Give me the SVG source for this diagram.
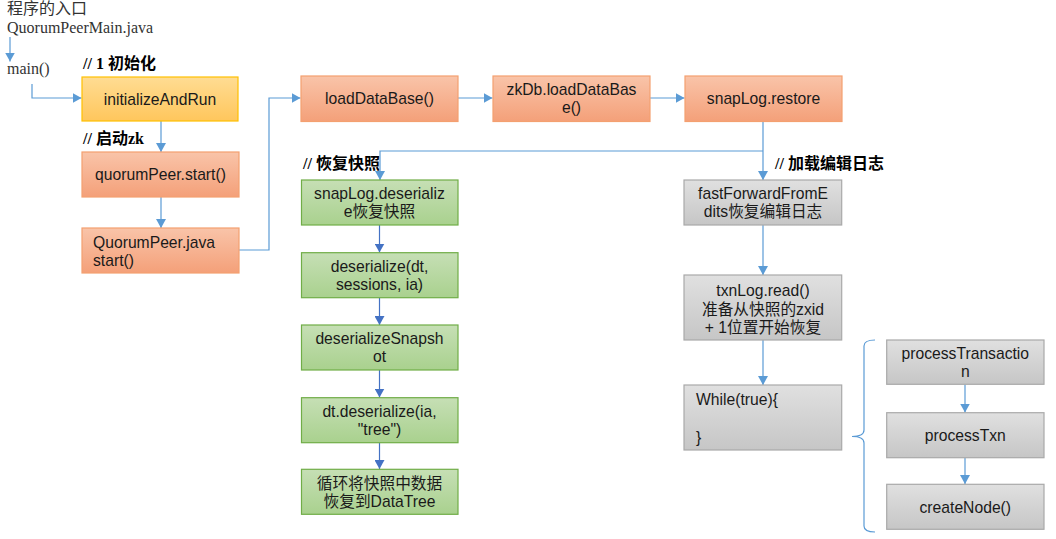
<svg xmlns="http://www.w3.org/2000/svg" width="1056" height="539" viewBox="0 0 1056 539">
<defs>
<linearGradient id="gOrange" x1="0" y1="0" x2="0" y2="1"><stop offset="0" stop-color="#F9C4A9"/><stop offset="1" stop-color="#F4A079"/></linearGradient>
<linearGradient id="gYellow" x1="0" y1="0" x2="0" y2="1"><stop offset="0" stop-color="#FFDC93"/><stop offset="1" stop-color="#FFC65C"/></linearGradient>
<linearGradient id="gGreen" x1="0" y1="0" x2="0" y2="1"><stop offset="0" stop-color="#C6DFB5"/><stop offset="1" stop-color="#A9D18E"/></linearGradient>
<linearGradient id="gGray" x1="0" y1="0" x2="0" y2="1"><stop offset="0" stop-color="#E0E0E0"/><stop offset="1" stop-color="#C6C6C6"/></linearGradient>
<marker id="arr" viewBox="0 0 10 10" refX="10" refY="5" markerWidth="9" markerHeight="10" markerUnits="userSpaceOnUse" orient="auto" preserveAspectRatio="none"><path d="M0,0 L10,5 L0,10 z" fill="#5B9BD5"/></marker>
<marker id="arrD" viewBox="0 0 10 10" refX="10" refY="5" markerWidth="9" markerHeight="10" markerUnits="userSpaceOnUse" orient="auto" preserveAspectRatio="none"><path d="M0,0 L10,5 L0,10 z" fill="#4472C4"/></marker>
<style>
.orange{fill:url(#gOrange);stroke:#F4A070;stroke-width:1.2}
.yellow{fill:url(#gYellow);stroke:#FFC000;stroke-width:1.2}
.green{fill:url(#gGreen);stroke:#70AD47;stroke-width:1.2}
.gray{fill:url(#gGray);stroke:#A9A9A9;stroke-width:1.2}
.t{font-family:"Liberation Sans","Noto Sans CJK SC",Arial,sans-serif;font-size:15.7px;fill:#1a1a1a;text-anchor:middle}
.tl{font-family:"Liberation Sans","Noto Sans CJK SC",Arial,sans-serif;font-size:15.7px;fill:#1a1a1a}
.h{font-family:"Liberation Serif","Noto Sans CJK SC",serif;font-size:16px;font-weight:bold;fill:#000}
.s{font-family:"Liberation Serif","Noto Sans CJK SC",serif;font-size:16px;fill:#333}
.c{fill:none;stroke:#5B9BD5;stroke-width:1.2}
.cd{fill:none;stroke:#4472C4;stroke-width:1.2}
</style>
</defs>
<rect width="1056" height="539" fill="#fff"/>

<g id="labels">
<text class="s" x="7" y="14">程序的入口</text>
<text class="s" x="7" y="33">QuorumPeerMain.java</text>
<text class="s" x="7" y="74">main()</text>
<text class="h" x="83" y="69">// 1 初始化</text>
<text class="h" x="83" y="144">// 启动zk</text>
<text class="h" x="303" y="169">// 恢复快照</text>
<text class="h" x="775" y="169">// 加载编辑日志</text>
</g>

<g id="connectors">
<path class="c" d="M10,37 V61.5" marker-end="url(#arr)"/>
<path class="c" d="M32,84 V98 H81.5" marker-end="url(#arr)"/>
<path class="c" d="M161,121 V152" marker-end="url(#arr)"/>
<path class="c" d="M161,197 V228" marker-end="url(#arr)"/>
<path class="c" d="M239,250 H269 V98 H300.5" marker-end="url(#arr)"/>
<path class="c" d="M458,98 H492.5" marker-end="url(#arr)"/>
<path class="c" d="M650,98 H684.5" marker-end="url(#arr)"/>
<path class="c" d="M763,122 V180" marker-end="url(#arr)"/>
<path class="c" d="M763,151 H380 V180" marker-end="url(#arr)"/>
<path class="cd" d="M379.5,225 V252.5" marker-end="url(#arrD)"/>
<path class="cd" d="M379.5,298 V325" marker-end="url(#arrD)"/>
<path class="cd" d="M379.5,370 V397.5" marker-end="url(#arrD)"/>
<path class="cd" d="M379.5,443 V469" marker-end="url(#arrD)"/>
<path class="c" d="M763,225 V275" marker-end="url(#arr)"/>
<path class="c" d="M763,340 V385" marker-end="url(#arr)"/>
<path class="c" d="M965,384.5 V412.5" marker-end="url(#arr)"/>
<path class="c" d="M965,458 V484" marker-end="url(#arr)"/>
<path class="c" d="M875,340 Q864,340 864,346 V430 Q864,436.5 852,436.5 Q864,436.5 864,443 V526 Q864,532 875,532"/>
</g>

<g id="initializeAndRun"><rect class="yellow" x="82" y="77" width="156" height="44"/><text class="t" x="160" y="104.5">initializeAndRun</text></g>
<g id="quorumPeerStart"><rect class="orange" x="82" y="152" width="157" height="45"/><text class="t" x="160.5" y="180">quorumPeer.start()</text></g>
<g id="quorumPeerJava"><rect class="orange" x="82" y="228" width="157" height="45"/><text class="tl" x="93" y="247.5">QuorumPeer.java</text><text class="tl" x="93" y="265.5">start()</text></g>
<g id="loadDataBase"><rect class="orange" x="301" y="76" width="157" height="45.5"/><text class="t" x="379.5" y="104">loadDataBase()</text></g>
<g id="zkDbLoadDataBase"><rect class="orange" x="493" y="76" width="157" height="45.5"/><text class="t" x="571.5" y="95">zkDb.loadDataBas</text><text class="t" x="571.5" y="113">e()</text></g>
<g id="snapLogRestore"><rect class="orange" x="685" y="76" width="157" height="45.5"/><text class="t" x="763.5" y="104">snapLog.restore</text></g>

<g id="snapLogDeserialize"><rect class="green" x="301.5" y="180" width="156.5" height="45"/><text class="t" x="379.5" y="199">snapLog.deserializ</text><text class="t" x="379.5" y="217">e恢复快照</text></g>
<g id="deserializeDt"><rect class="green" x="301.5" y="252.7" width="156.5" height="45"/><text class="t" x="379.5" y="271.5">deserialize(dt,</text><text class="t" x="379.5" y="289.5">sessions, ia)</text></g>
<g id="deserializeSnapshot"><rect class="green" x="301.5" y="325" width="156.5" height="45"/><text class="t" x="379.5" y="344">deserializeSnapsh</text><text class="t" x="379.5" y="362">ot</text></g>
<g id="dtDeserialize"><rect class="green" x="301.5" y="397.7" width="156.5" height="45"/><text class="t" x="379.5" y="416.5">dt.deserialize(ia,</text><text class="t" x="379.5" y="434.5">"tree")</text></g>
<g id="restoreDataTree"><rect class="green" x="301.5" y="469.3" width="156.5" height="45"/><text class="t" x="379.5" y="488.5">循环将快照中数据</text><text class="t" x="379.5" y="506.5">恢复到DataTree</text></g>

<g id="fastForwardFromEdits"><rect class="gray" x="684" y="180" width="157.7" height="45"/><text class="t" x="763" y="199">fastForwardFromE</text><text class="t" x="763" y="217">dits恢复编辑日志</text></g>
<g id="txnLogRead"><rect class="gray" x="684" y="275" width="157.7" height="65"/><text class="t" x="763" y="296">txnLog.read()</text><text class="t" x="763" y="314.5">准备从快照的zxid</text><text class="t" x="763" y="333">+ 1位置开始恢复</text></g>
<g id="whileTrue"><rect class="gray" x="684" y="385" width="157.7" height="65"/><text class="tl" x="696" y="405">While(true){</text><text class="tl" x="696" y="443">}</text></g>

<g id="processTransaction"><rect class="gray" x="886.7" y="340" width="157.3" height="44.3"/><text class="t" x="965.3" y="358.5">processTransactio</text><text class="t" x="965.3" y="376.5">n</text></g>
<g id="processTxn"><rect class="gray" x="886.7" y="412.7" width="157.3" height="45"/><text class="t" x="965.3" y="441">processTxn</text></g>
<g id="createNode"><rect class="gray" x="886.7" y="484.3" width="157.3" height="45"/><text class="t" x="965.3" y="512.5">createNode()</text></g>
</svg>
